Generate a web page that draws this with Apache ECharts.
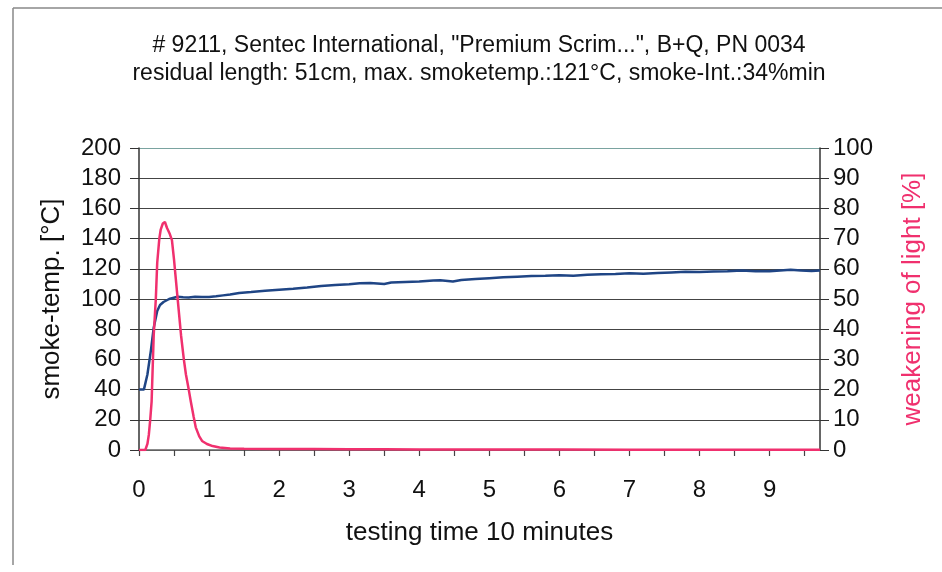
<!DOCTYPE html>
<html>
<head>
<meta charset="utf-8">
<script src="https://cdn.jsdelivr.net/npm/echarts@6/dist/echarts.min.js"></script>
<style>
html,body{margin:0;padding:0;background:#fff;}
#chart{width:942px;height:572px;}
</style>
</head>
<body>
<div id="chart"></div>
<script>
// ---- data ----
const titleLines = ['# 9211, Sentec International, "Premium Scrim...", B+Q, PN 0034',
  'residual length: 51cm, max. smoketemp.:121°C, smoke-Int.:34%min'];
const xAxisName = 'testing time 10 minutes';
const leftAxisName = 'smoke-temp. [°C]';
const rightAxisName = 'weakening of light [%]';
const xTickLabels = [0,1,2,3,4,5,6,7,8,9];

const tempTime = [0,0.07,0.12,0.17,0.21,0.26,0.30,0.35,0.43,0.55,0.63,0.71,0.80,0.90,1.00,1.10,1.20,1.30,1.43,1.60,1.80,2.00,2.20,2.40,2.60,2.80,3.00,3.15,3.30,3.50,3.60,3.80,4.00,4.20,4.30,4.48,4.60,4.80,5.00,5.20,5.40,5.60,5.80,6.00,6.20,6.40,6.60,6.80,7.00,7.20,7.40,7.60,7.80,8.00,8.20,8.40,8.60,8.80,9.00,9.20,9.30,9.45,9.60,9.72];
const tempVals = [40,40,50,66,81,92,96,98,100,101.5,101.2,101,101.5,101.4,101.3,101.8,102.4,103,104,104.6,105.4,106.2,106.8,107.6,108.6,109.2,109.8,110.4,110.6,110,110.9,111.3,111.6,112.2,112.4,111.6,112.6,113.2,113.8,114.4,114.8,115.2,115.4,115.8,115.4,116,116.4,116.6,117,116.8,117.2,117.6,118,117.8,118.2,118.4,118.8,118.4,118.3,119,119.4,118.8,118.6,118.8];

const lightTime = [0,0.09,0.12,0.14,0.16,0.18,0.21,0.24,0.26,0.29,0.31,0.34,0.37,0.40,0.44,0.47,0.50,0.52,0.56,0.60,0.64,0.67,0.71,0.74,0.78,0.81,0.86,0.90,0.97,1.05,1.15,1.30,1.50,2.00,2.50,3.00,3.50,4.00,5.00,6.00,7.00,8.00,9.00,9.72];
const lightVals = [0,0,2,5,10,16,38,50,62,70,73,75,75.5,73.5,71.5,69.5,63,58,48,38,30,25,20,16,11,7.5,4.5,3,2,1.3,0.8,0.5,0.4,0.3,0.3,0.25,0.25,0.2,0.2,0.15,0.1,0.1,0.1,0.1];

const tempData = tempTime.map((t,i)=>[t,tempVals[i]]);
const lightData = lightTime.map((t,i)=>[t,lightVals[i]]);

const FONT = '"Liberation Sans", Arial, sans-serif';
const chart = echarts.init(document.getElementById('chart'));
chart.setOption({
  animation:false,
  backgroundColor:'#fff',
  textStyle:{fontFamily:FONT},
  title:{
    text: titleLines.join('\n'),
    left: 479, top: 32, padding:0, textAlign:'center',
    textStyle:{fontFamily:FONT,fontSize:23,fontWeight:'normal',color:'#111',lineHeight:28}
  },
  graphic:[
    {type:'line',shape:{x1:13,y1:8,x2:942,y2:8},style:{stroke:'#888',lineWidth:1.5}},
    {type:'line',shape:{x1:13,y1:8,x2:13,y2:565},style:{stroke:'#888',lineWidth:1.5}}
  ],
  grid:{left:139,right:122,top:148,bottom:122},
  xAxis:{
    type:'value',min:0,max:9.72,interval:0.5,
    name:xAxisName,nameLocation:'middle',nameGap:70,
    nameTextStyle:{fontFamily:FONT,fontSize:26,color:'#111'},
    axisLine:{lineStyle:{color:'#666',width:1.5}},
    axisTick:{show:true,length:6,lineStyle:{color:'#444',width:1.2}},
    axisLabel:{margin:28,fontSize:24,color:'#111',fontFamily:FONT,
      formatter:v=> xTickLabels.indexOf(v)>=0 ? String(v) : '' ,
      showMaxLabel:false},
    splitLine:{show:false}
  },
  yAxis:[
    {type:'value',min:0,max:200,interval:20,position:'left',
      name:leftAxisName,nameLocation:'middle',nameGap:74,nameRotate:90,
      nameTextStyle:{fontFamily:FONT,fontSize:26,color:'#111'},
      axisLine:{show:true,lineStyle:{color:'#333',width:1.5}},
      axisTick:{show:true,length:9,lineStyle:{color:'#333'}},
      axisLabel:{margin:18,fontSize:24,color:'#111',fontFamily:FONT},
      splitLine:{show:true,lineStyle:{width:1.2,color:['#555','#444','#444','#444','#444','#444','#444','#444','#444','#444','#7aa3a0']}}
    },
    {type:'value',min:0,max:100,interval:10,position:'right',
      name:rightAxisName,nameLocation:'middle',nameGap:80,nameRotate:90,
      nameTextStyle:{fontFamily:FONT,fontSize:26,color:'#f0306e'},
      axisLine:{show:true,lineStyle:{color:'#333',width:1.5}},
      axisTick:{show:true,length:9,lineStyle:{color:'#333'}},
      axisLabel:{margin:13,fontSize:24,color:'#111',fontFamily:FONT},
      splitLine:{show:false}
    }
  ],
  series:[
    {type:'line',name:'smoke-temp.',yAxisIndex:0,data:tempData,showSymbol:false,symbol:'none',
      lineStyle:{color:'#1f4585',width:2.5},z:3},
    {type:'line',name:'weakening of light',yAxisIndex:1,data:lightData,showSymbol:false,symbol:'none',
      lineStyle:{color:'#f0306e',width:2.5},z:4}
  ]
});
</script>
</body>
</html>
